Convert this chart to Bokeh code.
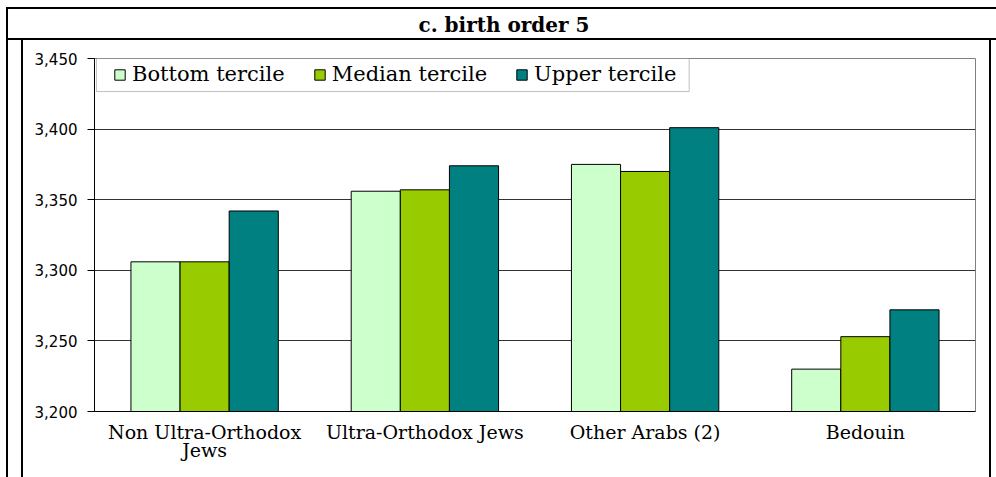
from bokeh.plotting import figure
from bokeh.models import (FactorRange, Range1d, NumeralTickFormatter, FixedTicker,
                          Legend, LegendItem, BoxAnnotation, ColumnDataSource)
from bokeh.transform import dodge
from bokeh.embed import file_html
from bokeh.resources import INLINE

# ---- data ----
categories = ["Non Ultra-Orthodox\nJews", "Ultra-Orthodox Jews", "Other Arabs (2)", "Bedouin"]
bottom_tercile = [3306, 3356, 3375, 3230]
median_tercile = [3306, 3357, 3370, 3253]
upper_tercile = [3342, 3374, 3401, 3272]
series_names = ["Bottom tercile", "Median tercile", "Upper tercile"]
series_colors = ["#CCFFCC", "#99CC00", "#008080"]
y_ticks = [3200, 3250, 3300, 3350, 3400, 3450]
title_text = "c. birth order 5"

W, H = 996, 477

# page frame lines drawn as CSS backgrounds behind the (transparent) canvas border
frame_css = {
    "background-image": ", ".join(["linear-gradient(#000,#000)"] * 5),
    "background-position": "6px 7px, 6px 38px, 6px 7px, 21px 40px, 989px 40px",
    "background-size": "990px 2px, 990px 2px, 2px 470px, 2px 437px, 2px 437px",
    "background-repeat": "no-repeat",
}

p = figure(x_range=FactorRange(*categories, range_padding=0),
           y_range=Range1d(3200, 3450),
           width=W, height=H, output_backend="svg", toolbar_location=None,
           min_border_left=94, min_border_right=21, min_border_top=58, min_border_bottom=66,
           styles=frame_css)

p.title.text = title_text
p.title.align = "left"
p.title.offset = 324
p.title.vertical_align = "bottom"
p.title.standoff = 2
p.title.padding = dict(left=0, right=0, top=0, bottom=21)
p.title.text_font = "DejaVu Serif"
p.title.text_font_style = "bold"
p.title.text_font_size = "20px"
p.title.text_color = "black"

p.background_fill_color = "white"
p.border_fill_color = "white"
p.border_fill_alpha = 0
p.outline_line_color = "#808080"
p.outline_line_width = 1

source = ColumnDataSource(dict(cat=categories, bottom=bottom_tercile,
                               median=median_tercile, upper=upper_tercile))
keys = ["bottom", "median", "upper"]
w = 0.223
renderers = []
for i, (k, c) in enumerate(zip(keys, series_colors)):
    r = p.vbar(x=dodge("cat", (i - 1) * w, range=p.x_range), top=k, bottom=y_ticks[0],
               width=w, source=source, fill_color=c, line_color="black", line_width=1)
    renderers.append(r)

# axes
p.yaxis.ticker = FixedTicker(ticks=y_ticks)
p.yaxis.formatter = NumeralTickFormatter(format="0,0")
p.yaxis.major_label_text_font = "DejaVu Sans"
p.yaxis.major_label_text_font_size = "15px"
p.yaxis.major_label_text_color = "black"
p.yaxis.major_tick_out = 7
p.yaxis.major_tick_in = 0
p.yaxis.minor_tick_line_color = None
p.yaxis.axis_line_color = "black"
p.yaxis.major_tick_line_color = "black"
p.yaxis.major_label_standoff = 10

p.xaxis.major_tick_line_color = None
p.xaxis.major_tick_out = 0
p.xaxis.major_tick_in = 0
p.xaxis.minor_tick_line_color = None
p.xaxis.axis_line_color = "black"
p.xaxis.major_label_text_font = "DejaVu Serif"
p.xaxis.major_label_text_font_size = "19px"
p.xaxis.major_label_text_line_height = 0.85
p.xaxis.major_label_text_color = "black"
p.xaxis.major_label_standoff = 9

p.ygrid.ticker = FixedTicker(ticks=y_ticks)
p.ygrid.grid_line_color = "#333333"
p.xgrid.grid_line_color = None

# legend box (data units)
p.add_layout(BoxAnnotation(left=0.009, right=2.70, top=3450, bottom=3426.6,
                           fill_color="white", fill_alpha=1, line_color="#333333", line_width=1,
                           level="underlay"))
legend = Legend(items=[LegendItem(label=n, renderers=[r]) for n, r in zip(series_names, renderers)],
                orientation="horizontal", location=(19, 325), padding=0, spacing=28,
                label_standoff=6, glyph_width=13, glyph_height=13, margin=0,
                border_line_alpha=0, background_fill_alpha=0,
                label_text_font="DejaVu Serif", label_text_font_size="21px", label_text_color="black")
p.add_layout(legend, "center")

open("out.html", "w").write(file_html(p, INLINE))
